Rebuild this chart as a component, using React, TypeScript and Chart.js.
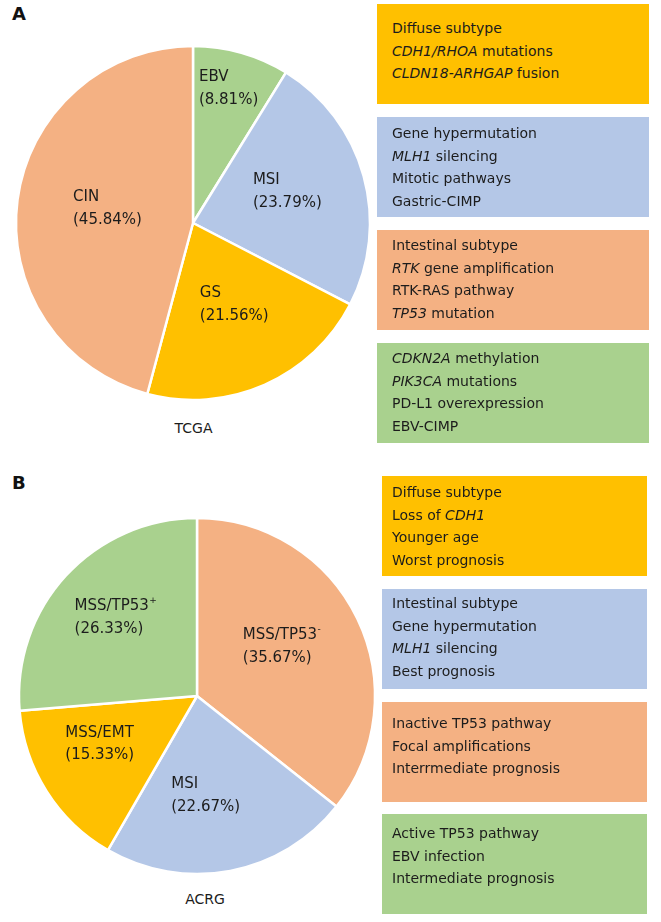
import React, { useEffect, useRef } from "react";
import { Chart, ArcElement, PieController } from "chart.js";

Chart.register(ArcElement, PieController);

// ---------- data ----------
const tcgaLabels = ["EBV", "MSI", "GS", "CIN"];
const tcgaSups = ["", "", "", ""];
const tcgaValues = [8.81, 23.79, 21.56, 45.84];

const acrgLabels = ["MSS/TP53", "MSI", "MSS/EMT", "MSS/TP53"];
const acrgSups = ["-", "", "", "+"];
const acrgValues = [35.67, 22.67, 15.33, 26.33];

const tcgaBoxes = [
  ["Diffuse subtype", "*CDH1/RHOA* mutations", "*CLDN18-ARHGAP* fusion"],
  ["Gene hypermutation", "*MLH1* silencing", "Mitotic pathways", "Gastric-CIMP"],
  ["Intestinal subtype", "*RTK* gene amplification", "RTK-RAS pathway", "*TP53* mutation"],
  ["*CDKN2A* methylation", "*PIK3CA* mutations", "PD-L1 overexpression", "EBV-CIMP"],
];
const acrgBoxes = [
  ["Diffuse subtype", "Loss of *CDH1*", "Younger age", "Worst prognosis"],
  ["Intestinal subtype", "Gene hypermutation", "*MLH1* silencing", "Best prognosis"],
  ["Inactive TP53 pathway", "Focal amplifications", "Interrmediate prognosis"],
  ["Active TP53 pathway", "EBV infection", "Intermediate prognosis"],
];

// ---------- styles ----------
const YELLOW = "#FFC000";
const BLUE = "#B4C7E7";
const ORANGE = "#F4B183";
const GREEN = "#A9D18E";
const tcgaColors = [GREEN, BLUE, YELLOW, ORANGE];
const acrgColors = [ORANGE, BLUE, YELLOW, GREEN];
const boxColors = [YELLOW, BLUE, ORANGE, GREEN];
// label placement: fraction of radius along (mid-angle + offset in degrees)
const tcgaLabelFrac = [0.784, 0.562, 0.516, 0.49];
const tcgaLabelRot = [-1, -3, -3, 2];
const acrgLabelFrac = [0.553, 0.56, 0.61, 0.634];
const acrgLabelRot = [-4.4, 5.8, 6, 1.5];
const FONT = "'DejaVu Sans', Verdana, sans-serif";
const TEXT = "#1c1c1c";

const tcgaBoxLayout = { left: 377, width: 272, tops: [4, 117, 230, 343], pads: [13, 5, 4, 4], padLeft: 15 };
const acrgBoxLayout = { left: 382, width: 265, tops: [476, 589, 702, 814], pads: [5, 3, 10, 8], padLeft: 10 };

function makeLabelPlugin(names: string[], sups: string[], fracs: number[], rots: number[]) {
  return {
    id: "sliceLabels",
    afterDatasetsDraw(chart: any) {
      const ctx = chart.ctx as CanvasRenderingContext2D;
      const meta = chart.getDatasetMeta(0);
      const values = chart.data.datasets[0].data as number[];
      meta.data.forEach((arc: any, i: number) => {
        const p = arc.getProps(["x", "y", "startAngle", "endAngle", "outerRadius"], true);
        const mid = (p.startAngle + p.endAngle) / 2 + (rots[i] * Math.PI) / 180;
        const r = p.outerRadius * fracs[i];
        const cx = p.x + r * Math.cos(mid);
        const cy = p.y + r * Math.sin(mid);
        ctx.save();
        ctx.fillStyle = TEXT;
        ctx.textBaseline = "middle";
        ctx.textAlign = "left";
        ctx.font = `15px ${FONT}`;
        const l1 = names[i];
        const l2 = `(${values[i].toFixed(2)}%)`;
        const w1 = ctx.measureText(l1).width;
        ctx.font = `9px ${FONT}`;
        const ws = sups[i] ? ctx.measureText(sups[i]).width + 1 : 0;
        ctx.font = `15px ${FONT}`;
        const w2 = ctx.measureText(l2).width;
        const bw = Math.max(w1 + ws, w2);
        const x0 = cx - bw / 2;
        const lh = 22.7;
        ctx.fillText(l1, x0, cy - lh / 2);
        ctx.fillText(l2, x0, cy + lh / 2);
        if (sups[i]) {
          ctx.font = `9px ${FONT}`;
          ctx.fillText(sups[i], x0 + w1 + 0.5, cy - lh / 2 - 5);
        }
        ctx.restore();
      });
    },
  };
}

function PieChart(props: {
  labels: string[];
  sups: string[];
  values: number[];
  colors: string[];
  fracs: number[];
  rots: number[];
  left: number;
  top: number;
  size: number;
  radius: number;
}) {
  const ref = useRef<HTMLCanvasElement | null>(null);
  useEffect(() => {
    if (!ref.current) return;
    const chart = new Chart(ref.current, {
      type: "pie",
      data: {
        labels: props.labels,
        datasets: [
          {
            data: props.values,
            backgroundColor: props.colors,
            borderColor: "#ffffff",
            borderWidth: 2.5,
          },
        ],
      },
      options: {
        responsive: false,
        animation: false,
        events: [],
        radius: props.radius,
        layout: { padding: 0 },
        plugins: { legend: { display: false }, tooltip: { enabled: false } },
      } as any,
      plugins: [makeLabelPlugin(props.labels, props.sups, props.fracs, props.rots)],
    });
    return () => chart.destroy();
  }, []);
  return (
    <canvas
      ref={ref}
      width={props.size}
      height={props.size}
      style={{ position: "absolute", left: props.left, top: props.top, width: props.size, height: props.size }}
    />
  );
}

function RichLine({ text }: { text: string }) {
  const parts = text.split("*");
  return (
    <div style={{ whiteSpace: "nowrap" }}>
      {parts.map((s, i) => (i % 2 === 1 ? <i key={i}>{s}</i> : <span key={i}>{s}</span>))}
    </div>
  );
}

function Boxes({ boxes, layout }: { boxes: string[][]; layout: any }) {
  return (
    <>
      {boxes.map((lines, i) => (
        <div
          key={i}
          style={{
            position: "absolute",
            left: layout.left,
            top: layout.tops[i],
            width: layout.width,
            height: 100,
            boxSizing: "border-box",
            background: boxColors[i],
            paddingTop: layout.pads[i],
            paddingLeft: layout.padLeft,
            fontSize: 14,
            lineHeight: "22.6px",
            color: TEXT,
          }}
        >
          {lines.map((l, j) => (
            <RichLine key={j} text={l} />
          ))}
        </div>
      ))}
    </>
  );
}

export default function App() {
  return (
    <div
      style={{
        position: "absolute",
        left: 0,
        top: 0,
        width: 661,
        height: 922,
        background: "#ffffff",
        fontFamily: FONT,
        color: TEXT,
        overflow: "hidden",
      }}
    >
      <div style={{ position: "absolute", left: 12, top: 5, fontSize: 18, fontWeight: "bold", lineHeight: "18px", color: "#111" }}>A</div>
      <div style={{ position: "absolute", left: 12, top: 474, fontSize: 18, fontWeight: "bold", lineHeight: "18px", color: "#111" }}>B</div>

      <PieChart
        labels={tcgaLabels}
        sups={tcgaSups}
        values={tcgaValues}
        colors={tcgaColors}
        fracs={tcgaLabelFrac}
        rots={tcgaLabelRot}
        left={8}
        top={38}
        size={370}
        radius={177}
      />
      <PieChart
        labels={acrgLabels}
        sups={acrgSups}
        values={acrgValues}
        colors={acrgColors}
        fracs={acrgLabelFrac}
        rots={acrgLabelRot}
        left={12}
        top={511}
        size={370}
        radius={178}
      />

      <div style={{ position: "absolute", left: 133.5, top: 418, width: 120, textAlign: "center", fontSize: 14, lineHeight: "20px" }}>TCGA</div>
      <div style={{ position: "absolute", left: 145, top: 889, width: 120, textAlign: "center", fontSize: 14, lineHeight: "20px" }}>ACRG</div>

      <Boxes boxes={tcgaBoxes} layout={tcgaBoxLayout} />
      <Boxes boxes={acrgBoxes} layout={acrgBoxLayout} />
    </div>
  );
}
